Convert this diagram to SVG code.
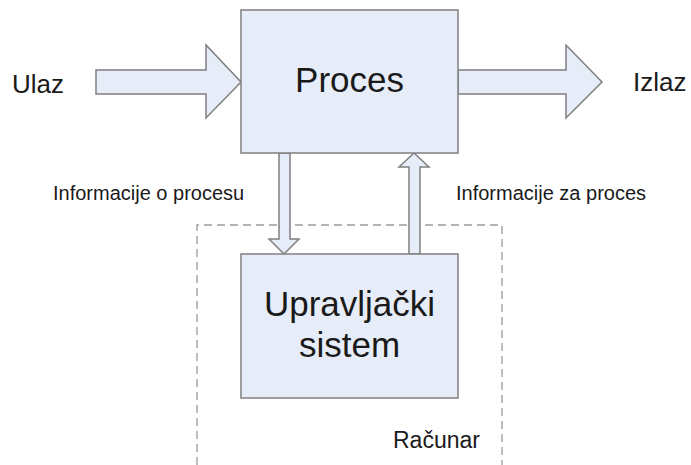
<svg xmlns="http://www.w3.org/2000/svg" width="691" height="465" viewBox="0 0 691 465">
<style>
.box{fill:#e7edf8;stroke:#7f7f7f;stroke-width:1.5}
.arr{fill:#e7edf8;stroke:#7f7f7f;stroke-width:1.5;stroke-linejoin:miter}
.big{font-family:"Liberation Sans",Arial,sans-serif;font-size:35px;fill:#1a1a1a;text-anchor:middle}
.lbl{font-family:"Liberation Sans",Arial,sans-serif;font-size:26px;fill:#1a1a1a}
.sm{font-family:"Liberation Sans",Arial,sans-serif;font-size:20px;fill:#1a1a1a}
.dash{fill:none;stroke:#9a9a9a;stroke-width:1.3;stroke-dasharray:8,5}
</style>
<rect width="691" height="465" fill="#ffffff"/>
<g id="racunar">
<path class="dash" d="M197,465 V225 H502 V465"/>
<text class="sm" x="393" y="448" style="font-size:23px">Računar</text>
</g>
<g id="connectors">
<path class="arr" d="M96,70 H206 V45 L241,82 L206,118 V94 H96 Z"/>
<path class="arr" d="M458,70 H566 V45 L602,82 L566,118 V94 H458 Z"/>
<path class="arr" d="M279,153 V239 H269 L284,254 L299,239 H290 V153 Z"/>
<path class="arr" d="M409,254 V167 H399 L414,153 L429,167 H420 V254 Z"/>
</g>
<g id="proces">
<rect class="box" x="241" y="10" width="217" height="143"/>
<text class="big" x="349.5" y="92">Proces</text>
</g>
<g id="upravljacki">
<rect class="box" x="241" y="254" width="217" height="144"/>
<text class="big" x="349.5" y="316">Upravljački</text>
<text class="big" x="349.5" y="357">sistem</text>
</g>
<g id="ulaz"><text class="lbl" x="12" y="93">Ulaz</text></g>
<g id="izlaz"><text class="lbl" x="633" y="91">Izlaz</text></g>
<g id="info1"><text class="sm" x="53" y="200">Informacije o procesu</text></g>
<g id="info2"><text class="sm" x="456" y="200">Informacije za proces</text></g>
</svg>
